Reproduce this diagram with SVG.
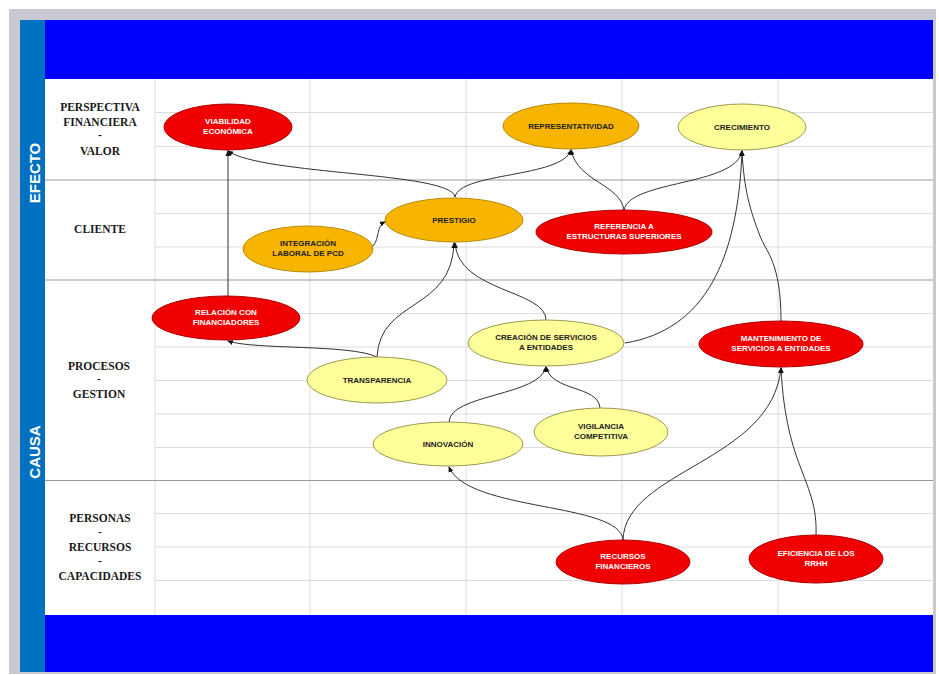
<svg xmlns="http://www.w3.org/2000/svg" width="939" height="675" viewBox="0 0 939 675">
<defs>
<marker id="arr" viewBox="0 0 6 6" refX="5" refY="3" markerWidth="6" markerHeight="6" orient="auto-start-reverse" markerUnits="userSpaceOnUse">
<path d="M0,0.5 L6,3 L0,5.5 Z" fill="#111"/>
</marker>
<style>
.grid{stroke:#dcdcdc;stroke-width:1}
.major{stroke:#9a9a9a;stroke-width:1.2}
.red{fill:#f00000;stroke:#b00000;stroke-width:1}
.org{fill:#f7b500;stroke:#b88a00;stroke-width:1}
.yel{fill:#ffff99;stroke:#9a9a50;stroke-width:1}
.tw{font-family:"Liberation Sans",Arial,sans-serif;font-size:8px;font-weight:bold;fill:#ffffff;text-anchor:middle}
.td{font-family:"Liberation Sans",Arial,sans-serif;font-size:8px;font-weight:bold;fill:#222;text-anchor:middle}
.lab{font-family:"Liberation Serif","Times New Roman",serif;font-size:11.5px;font-weight:bold;fill:#1a1a1a;text-anchor:middle}
.side{font-family:"Liberation Sans",Arial,sans-serif;font-size:15px;font-weight:bold;fill:#ffffff;text-anchor:middle}
.con{fill:none;stroke:#333;stroke-width:1;marker-end:url(#arr)}
</style>
</defs>
<rect x="0" y="0" width="939" height="675" fill="#ffffff"/>
<rect x="9" y="9" width="927" height="665" fill="#c9c9d2"/>
<rect x="20" y="20" width="25" height="652" fill="#0070c0"/>
<rect x="45" y="20" width="888" height="59" fill="#0000ff"/>
<rect x="45" y="79" width="888" height="536" fill="#ffffff"/>
<rect x="45" y="615" width="888" height="57" fill="#0000ff"/>
<text class="side" transform="translate(40,173) rotate(-90)">EFECTO</text>
<text class="side" transform="translate(40,452) rotate(-90)">CAUSA</text>
<g id="grid">
<line class="grid" x1="155" y1="79" x2="155" y2="615"/>
<line class="grid" x1="310" y1="79" x2="310" y2="615"/>
<line class="grid" x1="466" y1="79" x2="466" y2="615"/>
<line class="grid" x1="622" y1="79" x2="622" y2="615"/>
<line class="grid" x1="778" y1="79" x2="778" y2="615"/>
<line class="grid" x1="155" y1="112.5" x2="933" y2="112.5"/>
<line class="grid" x1="155" y1="146.5" x2="933" y2="146.5"/>
<line class="grid" x1="155" y1="213.5" x2="933" y2="213.5"/>
<line class="grid" x1="155" y1="247" x2="933" y2="247"/>
<line class="grid" x1="155" y1="313.5" x2="933" y2="313.5"/>
<line class="grid" x1="155" y1="347" x2="933" y2="347"/>
<line class="grid" x1="155" y1="380.5" x2="933" y2="380.5"/>
<line class="grid" x1="155" y1="414" x2="933" y2="414"/>
<line class="grid" x1="155" y1="447.5" x2="933" y2="447.5"/>
<line class="grid" x1="155" y1="513.5" x2="933" y2="513.5"/>
<line class="grid" x1="155" y1="547" x2="933" y2="547"/>
<line class="grid" x1="155" y1="580.5" x2="933" y2="580.5"/>
<line class="major" x1="45" y1="180" x2="933" y2="180"/>
<line class="major" x1="45" y1="280" x2="933" y2="280"/>
<line class="major" x1="45" y1="480.5" x2="933" y2="480.5"/>
</g>
<g id="labels">
<text class="lab" x="100" y="111">PERSPECTIVA</text>
<text class="lab" x="100" y="126">FINANCIERA</text>
<text class="lab" x="100" y="139">-</text>
<text class="lab" x="100" y="155">VALOR</text>
<text class="lab" x="100" y="233">CLIENTE</text>
<text class="lab" x="99" y="370">PROCESOS</text>
<text class="lab" x="99" y="383">-</text>
<text class="lab" x="99" y="398">GESTION</text>
<text class="lab" x="100" y="522">PERSONAS</text>
<text class="lab" x="100" y="536">-</text>
<text class="lab" x="100" y="551">RECURSOS</text>
<text class="lab" x="100" y="565">-</text>
<text class="lab" x="100" y="580">CAPACIDADES</text>
</g>
<g id="connectors">
<path class="con" d="M228,296 L228,151"/>
<path class="con" d="M455,197 C452,172 262,175 228,151"/>
<path class="con" d="M455,197 C460,172 562,178 571,150"/>
<path class="con" d="M624,210 C620,184 578,182 571,150"/>
<path class="con" d="M624,210 C630,180 736,186 742,151"/>
<path class="con" d="M373,246 C380,238 376,226 385,222"/>
<path class="con" d="M377,357 C380,298 452,312 454,243"/>
<path class="con" d="M546,320 C546,290 458,292 455,243"/>
<path class="con" d="M377,357 C350,344 255,350 228,341"/>
<path class="con" d="M625,343 C705,330 738,260 742,151"/>
<path class="con" d="M781,321 C781,262 766,252 760,236 C750,210 744,190 742,151"/>
<path class="con" d="M600,408 C598,385 552,392 546,367"/>
<path class="con" d="M449,422 C450,394 540,396 546,367"/>
<path class="con" d="M623,540 C620,502 468,512 449,467"/>
<path class="con" d="M623,540 C625,470 772,462 781,368"/>
<path class="con" d="M816,535 C818,480 786,470 781,368"/>
</g>
<g id="viabilidad">
<ellipse class="red" cx="228" cy="127" rx="64" ry="23"/>
<text class="tw" x="228" y="124">VIABILIDAD</text>
<text class="tw" x="228" y="134">ECONÓMICA</text>
</g>
<g id="representatividad">
<ellipse class="org" cx="571" cy="126" rx="68" ry="23"/>
<text class="td" x="571" y="129">REPRESENTATIVIDAD</text>
</g>
<g id="crecimiento">
<ellipse class="yel" cx="742" cy="127" rx="64" ry="23"/>
<text class="td" x="742" y="130">CRECIMIENTO</text>
</g>
<g id="prestigio">
<ellipse class="org" cx="454" cy="220" rx="69" ry="22"/>
<text class="td" x="454" y="223">PRESTIGIO</text>
</g>
<g id="integracion">
<ellipse class="org" cx="308" cy="249" rx="65" ry="23"/>
<text class="td" x="308" y="246">INTEGRACIÓN</text>
<text class="td" x="308" y="256">LABORAL DE PCD</text>
</g>
<g id="referencia">
<ellipse class="red" cx="624" cy="232" rx="88" ry="22"/>
<text class="tw" x="624" y="229">REFERENCIA A</text>
<text class="tw" x="624" y="239">ESTRUCTURAS SUPERIORES</text>
</g>
<g id="relacion">
<ellipse class="red" cx="226" cy="318" rx="74" ry="22"/>
<text class="tw" x="226" y="315">RELACIÓN CON</text>
<text class="tw" x="226" y="325">FINANCIADORES</text>
</g>
<g id="transparencia">
<ellipse class="yel" cx="377" cy="380" rx="70" ry="23"/>
<text class="td" x="377" y="383">TRANSPARENCIA</text>
</g>
<g id="creacion">
<ellipse class="yel" cx="546" cy="343" rx="78" ry="23"/>
<text class="td" x="546" y="340">CREACIÓN DE SERVICIOS</text>
<text class="td" x="546" y="350">A ENTIDADES</text>
</g>
<g id="mantenimiento">
<ellipse class="red" cx="781" cy="344" rx="82" ry="23"/>
<text class="tw" x="781" y="341">MANTENIMIENTO DE</text>
<text class="tw" x="781" y="351">SERVICIOS A ENTIDADES</text>
</g>
<g id="innovacion">
<ellipse class="yel" cx="448" cy="444" rx="75" ry="22"/>
<text class="td" x="448" y="447">INNOVACIÓN</text>
</g>
<g id="vigilancia">
<ellipse class="yel" cx="601" cy="432" rx="67" ry="24"/>
<text class="td" x="601" y="429">VIGILANCIA</text>
<text class="td" x="601" y="439">COMPETITIVA</text>
</g>
<g id="recursos">
<ellipse class="red" cx="623" cy="562" rx="67" ry="22"/>
<text class="tw" x="623" y="559">RECURSOS</text>
<text class="tw" x="623" y="569">FINANCIEROS</text>
</g>
<g id="eficiencia">
<ellipse class="red" cx="816" cy="559" rx="67" ry="24"/>
<text class="tw" x="816" y="556">EFICIENCIA DE LOS</text>
<text class="tw" x="816" y="566">RRHH</text>
</g>
</svg>
